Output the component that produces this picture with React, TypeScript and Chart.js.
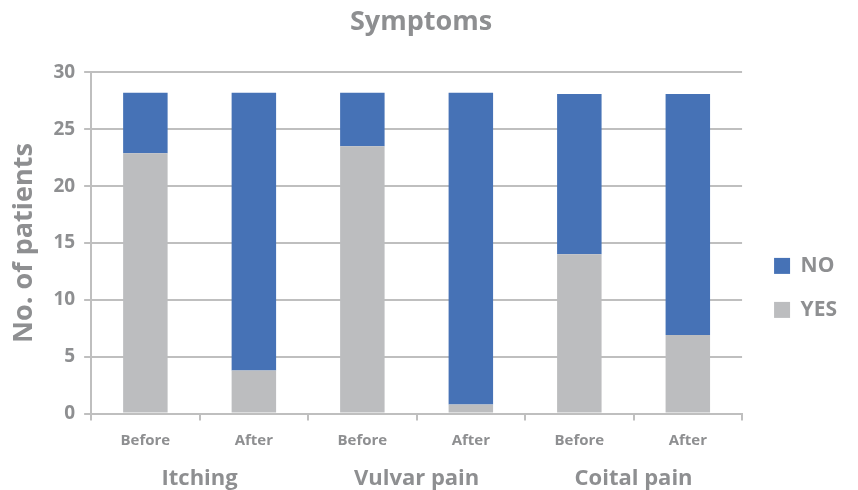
import React, { useEffect, useRef } from "react";
import { Chart, registerables } from "chart.js";

Chart.register(...registerables);

const categories = ["Before", "After", "Before", "After", "Before", "After"];
const groupLabels = ["Itching", "Vulvar pain", "Coital pain"];
const yesValues = [22.9, 3.8, 23.5, 0.8, 14.0, 6.9];
const noValues = [5.3, 24.4, 4.7, 27.4, 14.1, 21.2];
const yTicks = [0, 5, 10, 15, 20, 25, 30];

const TEXT = "#8e8f91";
const GRID = "#bfbfbf";
const FONT = "'Open Sans', sans-serif";

const shiftLegend = {
  id: "shiftLegend",
  afterLayout(chart: any) {
    const l = chart.legend;
    if (l) {
      l.left += 9;
      l.right += 9;
    }
  },
};

export default function App() {
  const ref = useRef<HTMLCanvasElement | null>(null);
  useEffect(() => {
    document.body.style.margin = "0";
    const chart = new Chart(ref.current as HTMLCanvasElement, {
      type: "bar",
      data: {
        labels: categories,
        datasets: [
          { label: "YES", data: yesValues, backgroundColor: "#bcbdbf", barPercentage: 1, categoryPercentage: 0.41 },
          { label: "NO", data: noValues, backgroundColor: "#4672b6", barPercentage: 1, categoryPercentage: 0.41 },
        ],
      },
      plugins: [shiftLegend],
      options: {
        animation: false,
        responsive: false,
        layout: { padding: { left: 4, right: 20, bottom: -7 } },
        plugins: {
          title: {
            display: true,
            text: "Symptoms",
            color: TEXT,
            font: { family: FONT, size: 27, weight: "bold" },
            padding: { top: 6, bottom: 34 },
          },
          legend: {
            position: "right",
            reverse: true,
            title: {
              display: true,
              text: " ",
              font: { family: FONT, size: 14 },
              padding: { top: 62, bottom: 0 },
            },
            labels: {
              boxWidth: 16,
              boxHeight: 16,
              color: TEXT,
              padding: 23,
              font: { family: FONT, size: 21, weight: "bold" },
            },
          },
          tooltip: { enabled: false },
        },
        scales: {
          x: {
            stacked: true,
            weight: 0,
            grid: { drawOnChartArea: false, drawTicks: true, tickLength: 7, color: GRID, lineWidth: 2, offset: true },
            border: { color: GRID, width: 2 },
            ticks: { color: TEXT, font: { family: FONT, size: 15, weight: "bold" }, padding: 11 },
          },
          x2: {
            type: "category",
            labels: groupLabels,
            position: "bottom",
            weight: 1,
            offset: true,
            grid: { display: false, drawTicks: false },
            border: { display: false },
            ticks: { color: TEXT, font: { family: FONT, size: 22, weight: "bold" }, padding: 5 },
          },
          y: {
            stacked: true,
            min: 0,
            max: 30,
            afterBuildTicks: (axis: any) => {
              axis.ticks = yTicks.map((v) => ({ value: v }));
            },
            grid: { color: GRID, lineWidth: 2, tickLength: 7 },
            border: { color: GRID, width: 2 },
            ticks: { color: TEXT, font: { family: FONT, size: 19, weight: "bold" }, padding: 9 },
            title: {
              display: true,
              text: "No. of patients",
              color: TEXT,
              font: { family: FONT, size: 27, weight: "bold" },
              padding: { bottom: 4 },
            },
          },
        },
      },
    });
    return () => chart.destroy();
  }, []);
  return (
    <div style={{ width: 858, height: 490 }}>
      <canvas ref={ref} width={858} height={490} />
    </div>
  );
}
